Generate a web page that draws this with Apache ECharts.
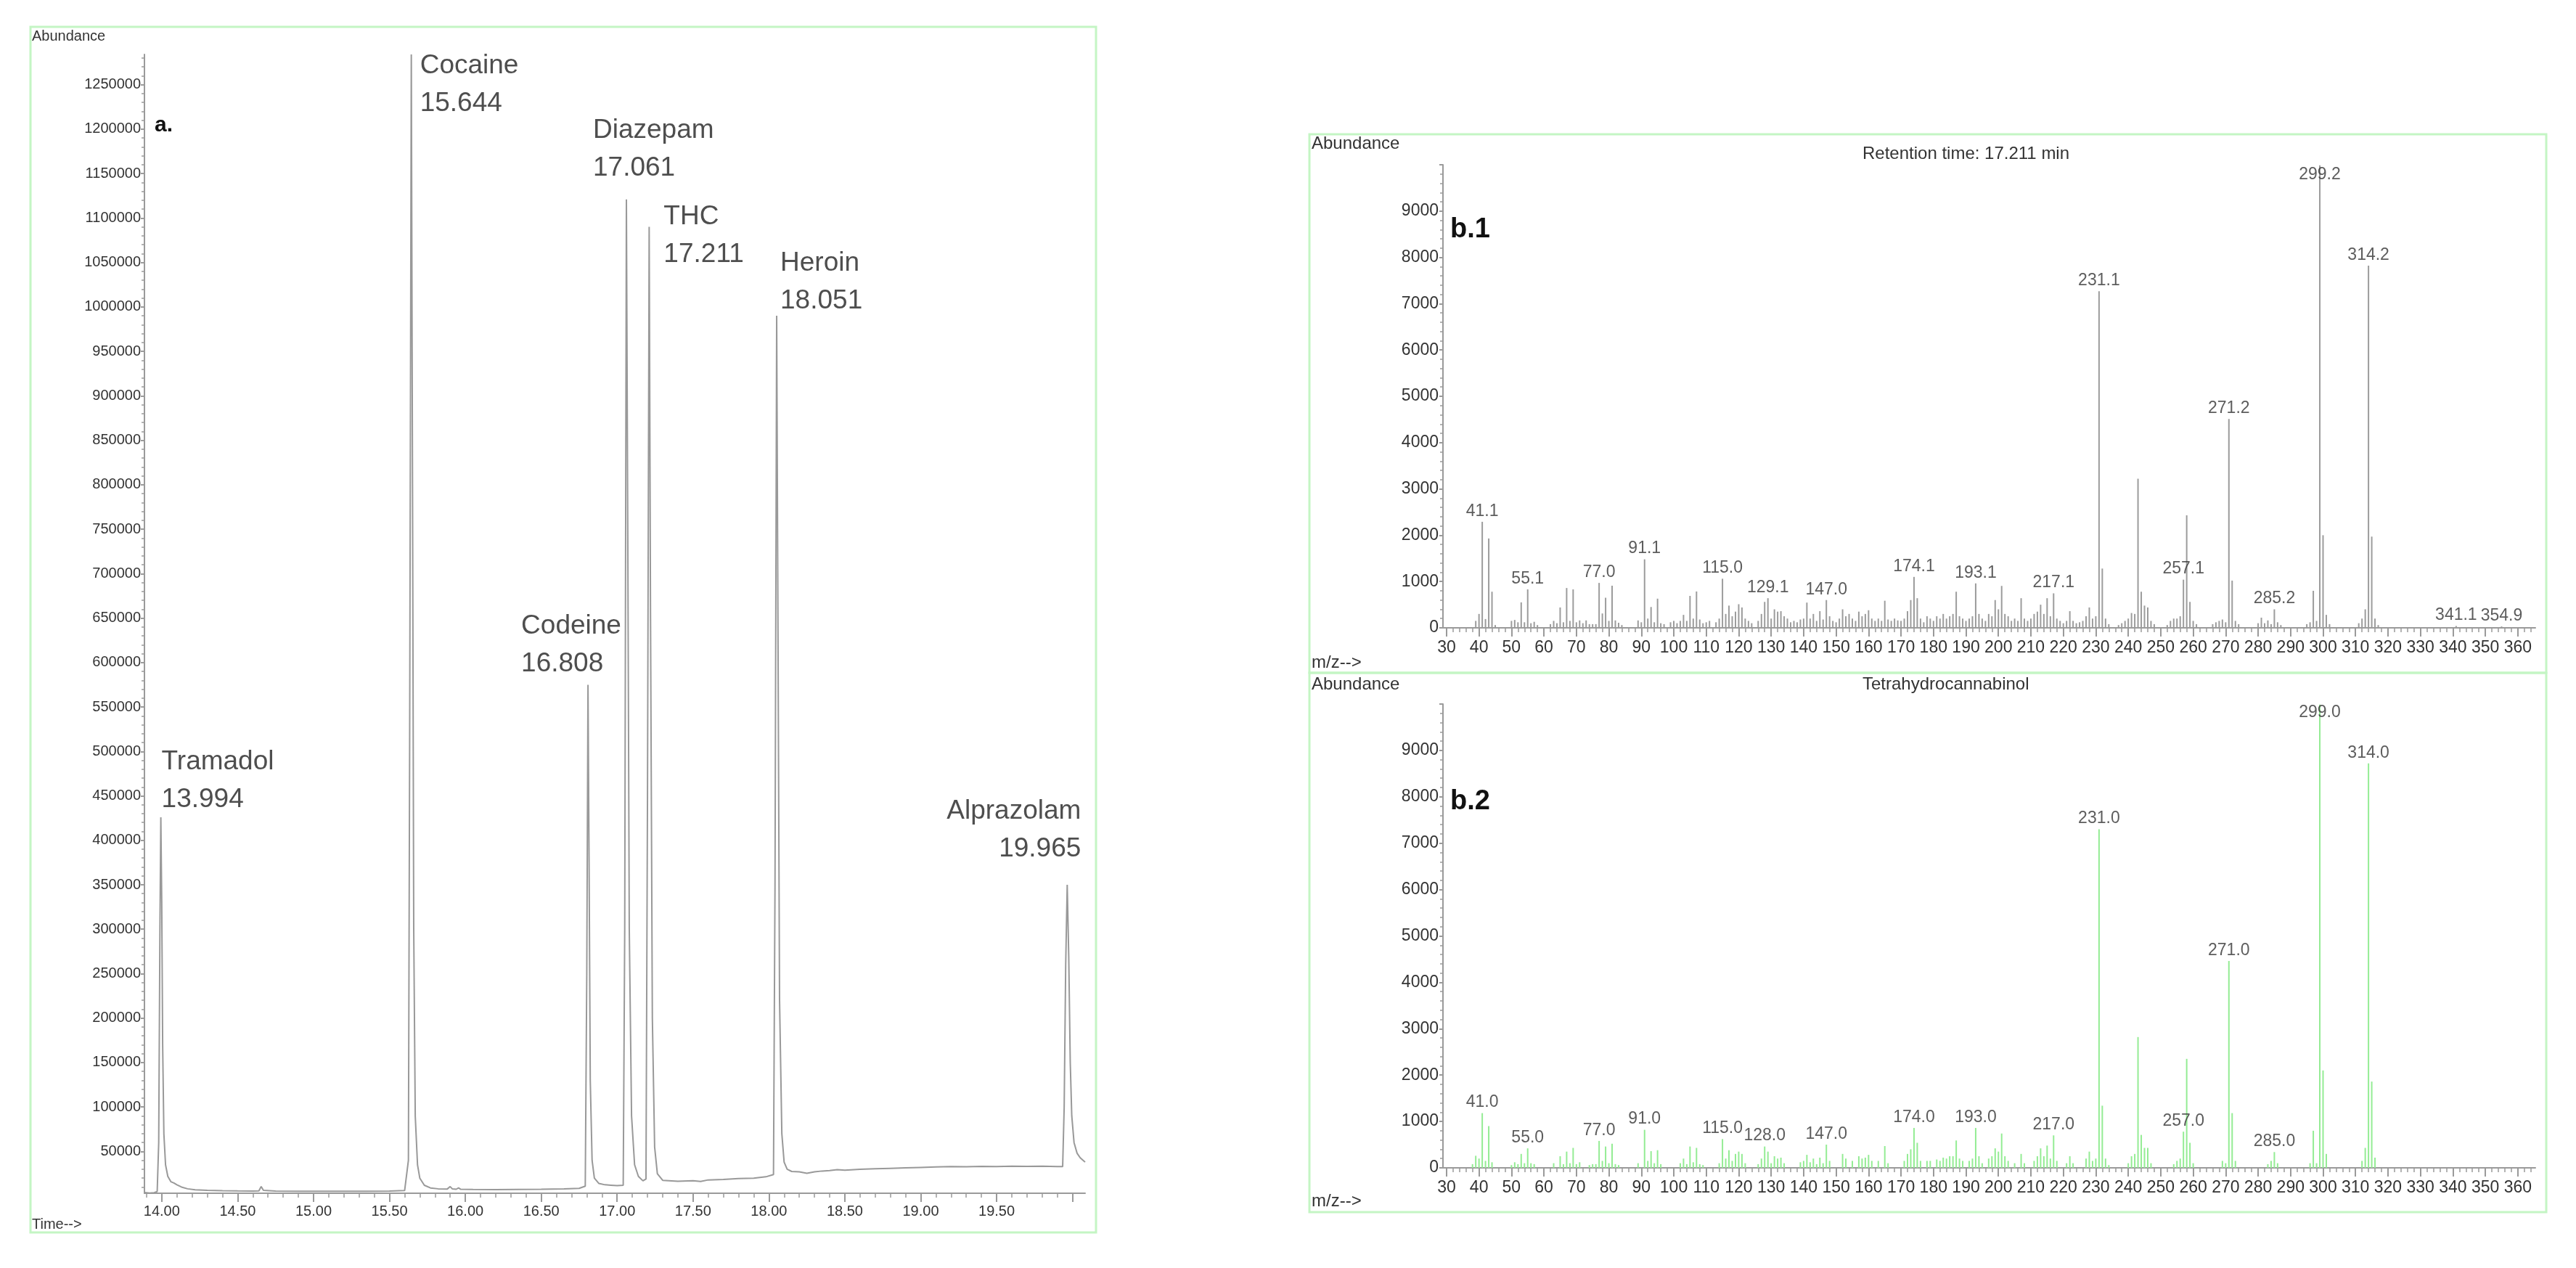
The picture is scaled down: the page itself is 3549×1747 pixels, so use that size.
<!DOCTYPE html>
<html>
<head>
<meta charset="utf-8">
<title>GC-MS chromatogram and THC spectra</title>
<script src="https://cdn.jsdelivr.net/npm/echarts@6/dist/echarts.min.js"></script>
<style>
  html, body { margin: 0; padding: 0; background: #fff; }
  #main { width: 3549px; height: 1747px; }
</style>
</head>
<body>
<div id="main"></div>
<script>
// chromatogram (a): [time, abundance]
var chromData = [
  [13.886, 3800], [13.92, 3200], [13.95, 3600], [13.97, 5000], [13.98, 60000], [13.988, 300000],
  [13.994, 426000], [14.0, 330000], [14.006, 170000], [14.014, 70000], [14.025, 35000], [14.04, 22000],
  [14.06, 16000], [14.08, 14500], [14.1, 12500], [14.13, 10000], [14.17, 8000], [14.22, 6800],
  [14.3, 6200], [14.4, 5800], [14.5, 5600], [14.6, 5500], [14.64, 5700], [14.655, 10500], [14.67, 6200],
  [14.75, 5400], [14.9, 5300], [15.05, 5200], [15.2, 5300], [15.35, 5200], [15.5, 5400], [15.6, 6000],
  [15.625, 40000], [15.633, 500000], [15.644, 1284000], [15.652, 800000], [15.66, 300000], [15.67, 90000],
  [15.685, 35000], [15.7, 20000], [15.73, 12000], [15.77, 9000], [15.82, 8000], [15.88, 7600],
  [15.9, 10500], [15.915, 7800], [15.94, 7500], [15.955, 9000], [15.97, 7400], [16.05, 7200],
  [16.2, 7000], [16.35, 7200], [16.5, 7400], [16.65, 7800], [16.75, 8500], [16.79, 11000],
  [16.8, 250000], [16.808, 575000], [16.815, 380000], [16.823, 130000], [16.835, 40000], [16.85, 20000],
  [16.88, 14000], [16.92, 12500], [16.96, 12000], [17.0, 11500], [17.04, 12000], [17.05, 300000],
  [17.061, 1121000], [17.07, 750000], [17.08, 300000], [17.095, 90000], [17.115, 35000], [17.14, 22000],
  [17.17, 17000], [17.19, 19000], [17.2, 450000], [17.211, 1090000], [17.22, 650000], [17.232, 200000],
  [17.247, 55000], [17.265, 25000], [17.3, 17500], [17.4, 16500], [17.5, 17000], [17.55, 16200],
  [17.6, 18000], [17.7, 18500], [17.8, 19500], [17.9, 20000], [17.98, 21500], [18.03, 24000],
  [18.04, 350000], [18.051, 990000], [18.06, 620000], [18.07, 220000], [18.085, 70000], [18.1, 38000],
  [18.12, 30000], [18.15, 27500], [18.2, 27000], [18.25, 25500], [18.3, 27000], [18.35, 28000],
  [18.4, 28500], [18.45, 29500], [18.5, 29000], [18.6, 30000], [18.7, 30500], [18.8, 31000],
  [18.9, 31500], [19.0, 32000], [19.1, 32500], [19.2, 33000], [19.3, 32800], [19.4, 33200],
  [19.5, 33000], [19.6, 33500], [19.7, 33200], [19.8, 33500], [19.9, 33000], [19.935, 33000],
  [19.945, 100000], [19.955, 260000], [19.965, 350000], [19.975, 270000], [19.985, 150000], [19.995, 90000],
  [20.01, 60000], [20.03, 48000], [20.05, 43000], [20.07, 40000], [20.083, 38000]
];

var peakNames = ['Tramadol', 'Cocaine', 'Codeine', 'Diazepam', 'THC', 'Heroin', 'Alprazolam'];
var peakTimes = [13.994, 15.644, 16.808, 17.061, 17.211, 18.051, 19.965];
var peakHeights = [426000, 1284000, 575000, 1121000, 1090000, 990000, 350000];

var timeLabels = [14.0, 14.5, 15.0, 15.5, 16.0, 16.5, 17.0, 17.5, 18.0, 18.5, 19.0, 19.5];
var abundLabels = [50000, 100000, 150000, 200000, 250000, 300000, 350000, 400000, 450000, 500000,
  550000, 600000, 650000, 700000, 750000, 800000, 850000, 900000, 950000, 1000000, 1050000,
  1100000, 1150000, 1200000, 1250000];
var mzLabels = [30, 40, 50, 60, 70, 80, 90, 100, 110, 120, 130, 140, 150, 160, 170, 180, 190, 200,
  210, 220, 230, 240, 250, 260, 270, 280, 290, 300, 310, 320, 330, 340, 350, 360];

// b.1 measured spectrum at 17.211 min
var b1Mz = [39, 40, 41, 42, 43, 44, 45, 50, 51, 52, 53, 54, 55, 56, 57, 58, 62, 63, 64, 65, 66, 67, 68, 69, 70,
  71, 72, 73, 74, 75, 76, 77, 78, 79, 80, 81, 82, 83, 84, 89, 90, 91, 92, 93, 94, 95, 96, 97, 99, 100,
  101, 102, 103, 104, 105, 106, 107, 108, 109, 110, 111, 113, 114, 115, 116, 117, 118, 119, 120, 121,
  122, 123, 124, 126, 127, 128, 129, 130, 131, 132, 133, 134, 135, 136, 137, 138, 139, 140, 141, 142,
  143, 144, 145, 146, 147, 148, 149, 150, 151, 152, 153, 154, 155, 156, 157, 158, 159, 160, 161, 162,
  163, 164, 165, 166, 167, 168, 169, 170, 171, 172, 173, 174, 175, 176, 177, 178, 179, 180, 181, 182,
  183, 184, 185, 186, 187, 188, 189, 190, 191, 192, 193, 194, 195, 196, 197, 198, 199, 200, 201, 202,
  203, 204, 205, 206, 207, 208, 209, 210, 211, 212, 213, 214, 215, 216, 217, 218, 219, 220, 221, 222,
  223, 224, 225, 226, 227, 228, 229, 230, 231, 232, 233, 234, 237, 238, 239, 240, 241, 242, 243, 244,
  245, 246, 247, 248, 252, 253, 254, 255, 256, 257, 258, 259, 260, 261, 266, 267, 268, 269, 270, 271,
  272, 273, 274, 280, 281, 282, 283, 284, 285, 286, 287, 295, 296, 297, 298, 299, 300, 301, 302, 311,
  312, 313, 314, 315, 316, 317, 341, 355];
var b1Ab = [150, 300, 2290, 190, 1930, 780, 60, 150, 170, 120, 550, 120, 830, 100, 130, 60, 80, 150, 100, 440, 120, 860, 150, 830, 120,
  160, 100, 160, 80, 80, 80, 970, 310, 650, 150, 910, 160, 110, 60, 160, 120, 1480, 200, 450, 120, 630, 100, 80, 120, 150,
  100, 150, 280, 150, 690, 200, 785, 180, 100, 120, 150, 120, 200, 1060, 300, 480, 250, 350, 510, 440,
  200, 150, 100, 150, 300, 560, 640, 200, 400, 350, 360, 250, 200, 120, 150, 120, 180, 200, 545, 200,
  300, 150, 360, 180, 600, 250, 150, 120, 200, 400, 250, 300, 200, 150, 350, 250, 300, 380, 200, 150,
  200, 150, 585, 180, 150, 200, 160, 150, 200, 360, 600, 1100, 640, 200, 120, 250, 200, 150, 250, 200,
  300, 200, 250, 300, 780, 250, 200, 150, 200, 250, 960, 300, 200, 150, 300, 250, 600, 400, 905, 300,
  250, 150, 200, 150, 640, 200, 150, 200, 300, 350, 500, 300, 640, 250, 745, 200, 150, 100, 150, 360,
  150, 100, 120, 150, 250, 440, 200, 250, 7270, 1280, 200, 80, 60, 100, 150, 200, 320, 300, 3220, 780,
  480, 440, 150, 80, 60, 150, 200, 200, 250, 1040, 2430, 560, 150, 80, 80, 120, 150, 180, 120, 4510,
  1020, 150, 80, 100, 220, 100, 160, 80, 400, 120, 60, 80, 120, 800, 150, 9990, 2000, 280, 80, 100,
  200, 400, 7820, 1970, 200, 60, 40, 30];
var b1LabelMz = [41, 55, 77, 91, 115, 129, 147, 174, 193, 217, 231, 257, 271, 285, 299, 314, 341, 355];
var b1LabelText = ['41.1', '55.1', '77.0', '91.1', '115.0', '129.1', '147.0', '174.1', '193.1', '217.1',
  '231.1', '257.1', '271.2', '285.2', '299.2', '314.2', '341.1', '354.9'];

// b.2 library spectrum, Tetrahydrocannabinol
var b2Mz = [38, 39, 40, 41, 42, 43, 44, 50, 51, 52, 53, 54, 55, 56, 57, 63, 65, 66, 67, 68, 69, 70, 71, 74, 75,
  76, 77, 78, 79, 80, 81, 82, 83, 89, 91, 92, 93, 94, 95, 96, 102, 103, 104, 105, 106, 107, 108, 109, 114,
  115, 116, 117, 118, 119, 120, 121, 122, 126, 127, 128, 129, 130, 131, 132, 133, 134, 139, 140, 141, 142,
  143, 144, 145, 146, 147, 148, 152, 153, 155, 157, 158, 159, 160, 161, 163, 165, 166, 171, 172, 173, 174,
  175, 176, 178, 179, 181, 182, 183, 184, 185, 186, 187, 188, 189, 191, 192, 193, 194, 195, 197, 198, 199,
  200, 201, 202, 203, 205, 207, 208, 211, 212, 213, 214, 215, 216, 217, 218, 221, 222, 223, 227, 228, 229,
  230, 231, 232, 233, 234, 240, 241, 242, 243, 244, 245, 246, 247, 254, 255, 256, 257, 258, 259, 260, 269,
  270, 271, 272, 273, 283, 284, 285, 286, 296, 297, 298, 299, 300, 301, 312, 313, 314, 315, 316];
var b2Ab = [80, 260, 200, 1180, 150, 900, 120, 60, 120, 80, 300, 100, 420, 100, 80, 100, 250, 80, 350, 100, 430, 80, 120, 60, 80,
  80, 580, 150, 460, 100, 520, 80, 60, 100, 820, 150, 360, 100, 380, 80, 100, 200, 80, 460, 120, 430, 80, 60, 100,
  620, 200, 380, 150, 300, 350, 300, 100, 80, 200, 460, 350, 100, 250, 200, 220, 100, 120, 150, 280, 120,
  200, 80, 220, 100, 500, 150, 300, 200, 150, 250, 200, 220, 280, 150, 150, 470, 100, 150, 300, 400, 860,
  540, 150, 150, 150, 180, 150, 220, 200, 250, 250, 590, 200, 150, 150, 200, 860, 250, 100, 200, 250, 420,
  350, 740, 250, 150, 100, 300, 100, 150, 250, 420, 250, 480, 200, 700, 150, 100, 250, 100, 200, 350, 150,
  200, 7300, 1340, 200, 60, 100, 250, 300, 2820, 710, 430, 430, 100, 80, 150, 200, 780, 2350, 540, 100, 150,
  100, 4460, 1180, 150, 80, 150, 340, 100, 100, 800, 100, 9990, 2100, 300, 150, 430, 8720, 1860, 220];
var b2LabelMz = [41, 55, 77, 91, 115, 128, 147, 174, 193, 217, 231, 257, 271, 285, 299, 314];
var b2LabelText = ['41.0', '55.0', '77.0', '91.0', '115.0', '128.0', '147.0', '174.0', '193.0', '217.0',
  '231.0', '257.0', '271.0', '285.0', '299.0', '314.0'];

var FONT = 'Liberation Sans, Arial, sans-serif';
var AXIS = '#9a9a9a';
var TEXT = '#333';
var BORDER = '#c4f5c4';

function steps(a, b, s) {
  var out = [];
  for (var v = a; v <= b + s / 1000; v += s) out.push(+v.toFixed(4));
  return out;
}

function pairs(xs, ys) {
  return xs.map(function (x, i) { return [x, ys[i]]; });
}

function labelItems(mzs, texts, allMz, allAb, topShift) {
  return mzs.map(function (mz, i) {
    var ab = allAb[allMz.indexOf(mz)];
    var item = { value: [mz, ab], name: texts[i] };
    // label of the clipped base peak sits just inside the plot
    if (ab >= 9990) item.label = { offset: [0, topShift] };
    return item;
  });
}

// label placement next to each chromatogram apex (pixels)
var peakLabelPos = [[1, -102, 'left'], [12, -10, 'left'], [-92, -107, 'left'], [-46, -121, 'left'],
  [20, -40, 'left'], [5, -98, 'left'], [19, -127, 'right']];

function majorX(grid, min, max, labels, ticks, fontSize, fmt, margin) {
  return {
    gridIndex: grid, type: 'value', min: min, max: max,
    axisLine: { show: true, onZero: false, lineStyle: { color: AXIS, width: 2 } },
    axisTick: { show: true, customValues: ticks, length: 12, lineStyle: { color: AXIS, width: 2 } },
    axisLabel: { customValues: labels, fontSize: fontSize, fontFamily: FONT, color: TEXT, margin: margin, formatter: fmt },
    splitLine: { show: false }
  };
}

function minorX(grid, min, max, ticks) {
  return {
    gridIndex: grid, type: 'value', min: min, max: max, position: 'bottom',
    axisLine: { show: false },
    axisTick: { show: true, customValues: ticks, length: 6, lineStyle: { color: AXIS, width: 1.5 } },
    axisLabel: { show: false },
    splitLine: { show: false }
  };
}

function minorY(grid, min, max, ticks) {
  return {
    gridIndex: grid, type: 'value', min: min, max: max, position: 'left',
    axisLine: { show: false },
    axisTick: { show: true, customValues: ticks, length: 4, lineStyle: { color: AXIS, width: 1.5 } },
    axisLabel: { show: false },
    splitLine: { show: false }
  };
}

function spectrumY(grid) {
  return {
    gridIndex: grid, type: 'value', min: 0, max: 10000, interval: 1000,
    axisLine: { show: true, lineStyle: { color: AXIS, width: 2 } },
    axisTick: { show: true, length: 5, lineStyle: { color: AXIS, width: 2 } },
    axisLabel: {
      fontSize: 23, fontFamily: FONT, color: TEXT, margin: 6,
      formatter: function (v) { return v >= 10000 ? '' : String(v); }
    },
    splitLine: { show: false }
  };
}

function text(x, y, str, size, opts) {
  opts = opts || {};
  return {
    type: 'text', x: x, y: y, z: 10,
    style: {
      text: str, fill: opts.color || TEXT,
      font: (opts.bold ? 'bold ' : '') + size + 'px ' + FONT,
      textAlign: opts.align || 'left', textVerticalAlign: 'middle'
    }
  };
}

function box(x, y, w, h) {
  return { type: 'rect', shape: { x: x, y: y, width: w, height: h }, style: { fill: 'none', stroke: BORDER, lineWidth: 3 } };
}

var chart = echarts.init(document.getElementById('main'), null, { renderer: 'canvas' });

var timeMin = 13.886, timeMax = 20.083;
var mzMin = 28.9, mzMax = 365.4;

chart.setOption({
  animation: false,
  backgroundColor: '#fff',
  grid: [
    { left: 199, top: 75, width: 1296, height: 1569 },
    { left: 1988, top: 227, width: 1505, height: 638 },
    { left: 1988, top: 970, width: 1505, height: 639 }
  ],
  xAxis: [
    majorX(0, timeMin, timeMax, timeLabels, timeLabels.concat([20.0]), 20,
      function (v) { return v.toFixed(2); }, 15),
    minorX(0, timeMin, timeMax, steps(13.9, 20.0, 0.1)),
    majorX(1, mzMin, mzMax, mzLabels, mzLabels, 23, null, 16),
    minorX(1, mzMin, mzMax, steps(30, 364, 2)),
    majorX(2, mzMin, mzMax, mzLabels, mzLabels, 23, null, 16),
    minorX(2, mzMin, mzMax, steps(30, 364, 2))
  ],
  yAxis: [
    {
      gridIndex: 0, type: 'value', min: 3000, max: 1284000,
      axisLine: { show: true, onZero: false, lineStyle: { color: AXIS, width: 2 } },
      axisTick: { show: true, customValues: abundLabels, length: 5, lineStyle: { color: AXIS, width: 2 } },
      axisLabel: {
        customValues: abundLabels, fontSize: 20, fontFamily: FONT, color: TEXT, margin: 5,
        formatter: function (v) { return String(v); }
      },
      splitLine: { show: false }
    },
    minorY(0, 3000, 1284000, steps(10000, 1280000, 10000)),
    spectrumY(1),
    minorY(1, 0, 10000, steps(0, 10000, 200)),
    spectrumY(2),
    minorY(2, 0, 10000, steps(0, 10000, 200))
  ],
  series: [
    {
      type: 'line', xAxisIndex: 0, yAxisIndex: 0, data: chromData,
      showSymbol: false, symbol: 'none', clip: true,
      lineStyle: { color: '#999', width: 2 }
    },
    {
      type: 'scatter', xAxisIndex: 0, yAxisIndex: 0, symbolSize: 0, z: 5,
      data: peakNames.map(function (n, i) {
        var p = peakLabelPos[i];
        return {
          name: n, value: [peakTimes[i], peakHeights[i]],
          label: { position: [p[0], p[1]], align: p[2], verticalAlign: 'top' }
        };
      }),
      label: {
        show: true, fontSize: 37, lineHeight: 52, fontFamily: FONT, color: '#222',
        formatter: function (d) { return d.name + '\n' + d.value[0].toFixed(3); }
      }
    },
    {
      type: 'bar', xAxisIndex: 2, yAxisIndex: 2, data: pairs(b1Mz, b1Ab),
      barWidth: 2, itemStyle: { color: '#9c9c9c' }
    },
    {
      type: 'scatter', xAxisIndex: 2, yAxisIndex: 2, symbolSize: 0, z: 5,
      data: labelItems(b1LabelMz, b1LabelText, b1Mz, b1Ab, 28),
      label: { show: true, position: 'top', distance: 3, fontSize: 23, fontFamily: FONT, color: TEXT,
        formatter: function (d) { return d.name; } }
    },
    {
      type: 'bar', xAxisIndex: 4, yAxisIndex: 4, data: pairs(b2Mz, b2Ab),
      barWidth: 2, itemStyle: { color: '#94ec94' }
    },
    {
      type: 'scatter', xAxisIndex: 4, yAxisIndex: 4, symbolSize: 0, z: 5,
      data: labelItems(b2LabelMz, b2LabelText, b2Mz, b2Ab, 26),
      label: { show: true, position: 'top', distance: 3, fontSize: 23, fontFamily: FONT, color: TEXT,
        formatter: function (d) { return d.name; } }
    }
  ],
  graphic: [
    box(42, 37, 1468, 1661),
    box(1804, 185, 1704, 742),
    box(1804, 927, 1704, 743),
    text(44, 50, 'Abundance', 20),
    text(44, 1687, 'Time-->', 20),
    text(213, 173, 'a.', 30, { bold: true, color: '#111' }),
    text(1807, 198, 'Abundance', 24),
    text(2566, 212, 'Retention time: 17.211 min', 24),
    text(1998, 317, 'b.1', 38, { bold: true, color: '#111' }),
    text(1807, 913, 'm/z-->', 24),
    text(1807, 943, 'Abundance', 24),
    text(2566, 943, 'Tetrahydrocannabinol', 24),
    text(1998, 1105, 'b.2', 38, { bold: true, color: '#111' }),
    text(1807, 1655, 'm/z-->', 24)
  ]
});
</script>
</body>
</html>
